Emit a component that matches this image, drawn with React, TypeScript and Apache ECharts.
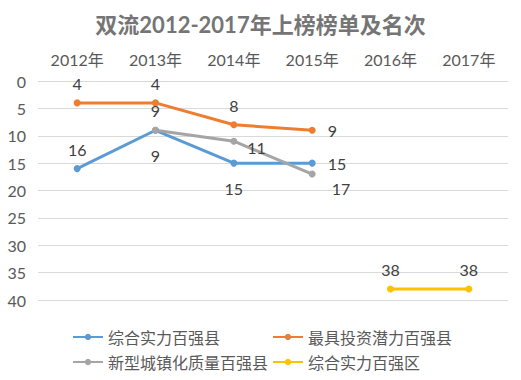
import React, { useEffect, useRef } from "react";
import * as echarts from "echarts";

const categories = ["2012年", "2013年", "2014年", "2015年", "2016年", "2017年"];
const seriesNames = ["综合实力百强县", "最具投资潜力百强县", "新型城镇化质量百强县", "综合实力百强区"];
const blueValues = [16, 9, 15, 15, null, null];
const orangeValues = [4, 4, 8, 9, null, null];
const grayValues = [null, 9, 11, 17, null, null];
const yellowValues = [null, null, null, null, 38, 38];
const yTicks = { min: 0, max: 40, interval: 5 };

const blueLabelPos = ["top", "bottom", "bottom", "right", "top", "top"];
const orangeLabelPos = ["top", "top", "top", "right", "top", "top"];
const grayLabelPos = ["top", "top", "right", "right", "top", "top"];
const yellowLabelPos = ["top", "top", "top", "top", "top", "top"];

const FONT = "Lato, 'Noto Sans CJK SC', sans-serif";

export default function App() {
  const ref = useRef<HTMLDivElement>(null);
  useEffect(() => {
    const chart = echarts.init(ref.current!, null, { renderer: "svg" });
    const mk = (name: string, vals: (number | null)[], pos: string[], color: string) => ({
      name,
      type: "line",
      data: vals.map((v, i) => {
        if (v === null) return "-";
        const o: any = { value: v, label: { position: pos[i] } };
        if (pos[i] === "right") o.label.offset = [4, 0];
        if (name === seriesNames[2] && i === 3) o.label.offset = [8, 14];
        if (name === seriesNames[2] && i === 2) o.label.offset = [2, 6];
        if (name === seriesNames[0] && i === 1) o.label.offset = [0, 6];
        if (name === seriesNames[0] && i === 2) o.label.offset = [0, 6];
        return o;
      }),
      symbol: "circle",
      symbolSize: 7,
      lineStyle: { width: 3, color },
      itemStyle: { color },
      label: {
        show: true,
        color: "#404040",
        fontSize: 16,
        fontFamily: FONT,
        distance: 8,
      },
    });
    chart.setOption({
      animation: false,
      title: {
        text: "双流2012-2017年上榜榜单及名次",
        left: "center",
        top: 8,
        textStyle: { fontSize: 22, fontWeight: "bold", color: "#757575", fontFamily: FONT },
      },
      grid: { left: 38, right: 13, top: 81, bottom: 80 },
      xAxis: {
        type: "category",
        position: "top",
        data: categories,
        boundaryGap: true,
        axisLine: { show: false },
        axisTick: { show: false },
        axisLabel: { color: "#595959", fontSize: 16, fontFamily: FONT, margin: 14 },
      },
      yAxis: {
        type: "value",
        inverse: true,
        min: yTicks.min,
        max: yTicks.max,
        interval: yTicks.interval,
        axisLine: { show: false },
        axisTick: { show: false },
        axisLabel: { color: "#595959", fontSize: 16, fontFamily: FONT, margin: 12 },
        splitLine: { lineStyle: { color: "#d9d9d9", width: 1 } },
      },
      legend: [
        {
          orient: "vertical",
          left: 67,
          top: 323,
          itemGap: 7,
          itemWidth: 30,
          itemHeight: 8,
          data: [seriesNames[0], seriesNames[2]],
          textStyle: { color: "#595959", fontSize: 16, fontFamily: FONT, lineHeight: 18 },
        },
        {
          orient: "vertical",
          left: 267,
          top: 323,
          itemGap: 7,
          itemWidth: 30,
          itemHeight: 8,
          data: [seriesNames[1], seriesNames[3]],
          textStyle: { color: "#595959", fontSize: 16, fontFamily: FONT, lineHeight: 18 },
        },
      ],
      series: [
        mk(seriesNames[0], blueValues, blueLabelPos, "#5B9BD5"),
        mk(seriesNames[1], orangeValues, orangeLabelPos, "#ED7D31"),
        mk(seriesNames[2], grayValues, grayLabelPos, "#A5A5A5"),
        mk(seriesNames[3], yellowValues, yellowLabelPos, "#FFC000"),
      ],
    });
    return () => chart.dispose();
  }, []);
  return (
    <div
      ref={ref}
      style={{ position: "absolute", left: 0, top: 0, width: 521, height: 380 }}
    />
  );
}
